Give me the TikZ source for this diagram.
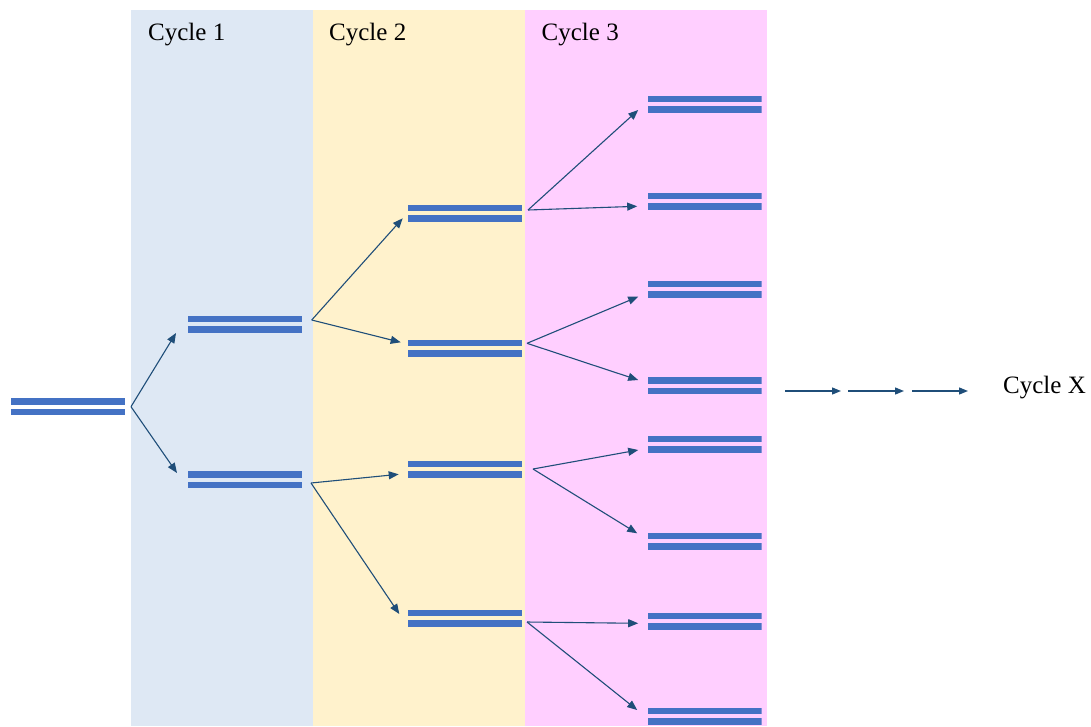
\documentclass[tikz,border=0pt]{standalone}
\usepackage{fontspec}
\setmainfont{Liberation Serif}
\usetikzlibrary{arrows.meta}
\definecolor{barblue}{HTML}{4472C4}
\definecolor{arrowcol}{HTML}{1F4E79}
\definecolor{panelblue}{HTML}{DEE8F4}
\definecolor{panelyellow}{HTML}{FFF2CC}
\definecolor{panelpink}{HTML}{FFCFFF}
\begin{document}
\begin{tikzpicture}[x=1pt,y=-1pt,
  pair/.style={rectangle, minimum width=114pt, minimum height=17pt, inner sep=0pt, outer sep=0pt,
    path picture={
      \fill[barblue] (path picture bounding box.north west) rectangle ([yshift=-6.5pt]path picture bounding box.north east);
      \fill[barblue] (path picture bounding box.south west) rectangle ([yshift=6.5pt]path picture bounding box.south east);}},
  arr/.style={draw=arrowcol, line width=1.1pt, -{Triangle[length=10pt,width=8pt]}},
  arrx/.style={draw=arrowcol, line width=1.3pt, -{Triangle[length=9pt,width=7pt]}},
  lbl/.style={font=\fontsize{25}{30}\selectfont, inner sep=0pt, anchor=base west}]
\useasboundingbox (0,0) rectangle (1091,726);
% panels
\fill[panelblue] (131,10) rectangle (313,726);
\fill[panelyellow] (313,10) rectangle (525,726);
\fill[panelpink] (525,10) rectangle (767,726);
% labels
\node[lbl] (t1) at (148,40.7) {Cycle 1};
\node[lbl] (t2) at (329,40.7) {Cycle 2};
\node[lbl] (t3) at (541.5,40.7) {Cycle 3};
\node[lbl] (tx) at (1003,393) {Cycle X};
% DNA pairs
\node[pair] (L0) at (68,406.7) {};
\node[pair] (A1) at (245,324) {};
\node[pair] (A2) at (245,479.5) {};
\node[pair] (B1) at (465,213) {};
\node[pair] (B2) at (465,348) {};
\node[pair] (B3) at (465,469) {};
\node[pair] (B4) at (465,618) {};
\node[pair] (C1) at (704.5,104.3) {};
\node[pair] (C2) at (704.5,201) {};
\node[pair] (C3) at (704.5,289.3) {};
\node[pair] (C4) at (704.5,385.7) {};
\node[pair] (C5) at (704.5,444.3) {};
\node[pair] (C6) at (704.5,541) {};
\node[pair] (C7) at (704.5,621) {};
\node[pair] (C8) at (704.5,716) {};
% arrows
\draw[arr] ([shift={(6,0)}]L0.east) -- ([shift={(-12,9)}]A1.west);
\draw[arr] ([shift={(6,0)}]L0.east) -- ([shift={(-11,-6.5)}]A2.west);
\draw[arr] ([shift={(9.7,-4)}]A1.east) -- ([shift={(-5.3,5.3)}]B1.west);
\draw[arr] ([shift={(9.7,-4)}]A1.east) -- ([shift={(-7.3,-5.7)}]B2.west);
\draw[arr] ([shift={(9,3.5)}]A2.east) -- ([shift={(-9.3,5.3)}]B3.west);
\draw[arr] ([shift={(9,3.5)}]A2.east) -- ([shift={(-8.7,-4)}]B4.west);
\draw[arr] ([shift={(6,-3)}]B1.east) -- ([shift={(-9.3,5.7)}]C1.west);
\draw[arr] ([shift={(6,-3)}]B1.east) -- ([shift={(-10.3,5.3)}]C2.west);
\draw[arr] ([shift={(5,-4.7)}]B2.east) -- ([shift={(-9.3,7.4)}]C3.west);
\draw[arr] ([shift={(5,-4.7)}]B2.east) -- ([shift={(-9.3,-5.7)}]C4.west);
\draw[arr] ([shift={(11,0)}]B3.east) -- ([shift={(-9.3,5.7)}]C5.west);
\draw[arr] ([shift={(11,0)}]B3.east) -- ([shift={(-10.3,-7.7)}]C6.west);
\draw[arr] ([shift={(5,4)}]B4.east) -- ([shift={(-9.3,2.3)}]C7.west);
\draw[arr] ([shift={(5,4)}]B4.east) -- ([shift={(-10.3,-6)}]C8.west);
% continuation arrows
\coordinate (x0) at (785,391);
\coordinate (x1) at (841,391);
\coordinate (x2) at (848,391);
\coordinate (x3) at (904,391);
\coordinate (x4) at (912,391);
\coordinate (x5) at (968,391);
\draw[arrx] (x0) -- (x1);
\draw[arrx] (x2) -- (x3);
\draw[arrx] (x4) -- (x5);
\end{tikzpicture}
\end{document}
